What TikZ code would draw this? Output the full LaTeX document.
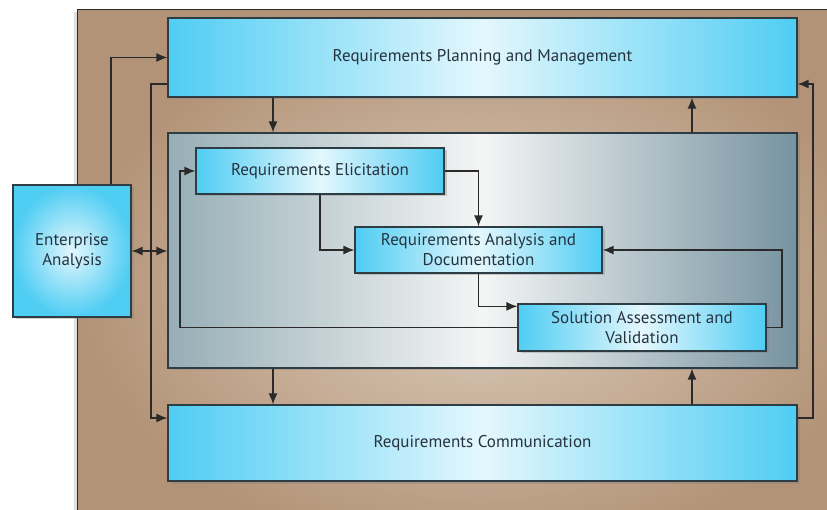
\documentclass[tikz,border=0pt]{standalone}
\usepackage{fontspec}
\setmainfont{PT Sans}
\usetikzlibrary{arrows.meta,shadows,calc}
\definecolor{brownout}{HTML}{B39377}
\definecolor{brownin}{HTML}{DCCDBD}
\definecolor{cy}{HTML}{4FCDF3}
\definecolor{cyw}{HTML}{E4F7FD}
\definecolor{gl}{HTML}{96AEB6}
\definecolor{gr}{HTML}{7693A0}
\definecolor{gw}{HTML}{F4F5F5}
\definecolor{boxline}{HTML}{2E3C44}
\definecolor{txt}{HTML}{26333F}
\definecolor{ln}{HTML}{2A2A2A}
\begin{document}
\begin{tikzpicture}[x=1pt,y=-1pt,
  box/.style={draw=boxline, line width=1.2pt, inner sep=0pt, text=txt,
    font=\fontsize{17}{20}\selectfont, align=center,
    drop shadow={shadow xshift=2.5pt, shadow yshift=-2.5pt, opacity=0.35}},
  bluebox/.style={box, left color=cy, right color=cy, middle color=cyw},
  arr/.style={draw=ln, line width=1.3pt, -{Latex[length=11pt,width=9pt]}},
  arrtwo/.style={draw=ln, line width=1.3pt, {Latex[length=11pt,width=9pt]}-{Latex[length=11pt,width=9pt]}}]
\useasboundingbox (0,0) rectangle (827,510);
\clip (0,0) rectangle (827,510);
\fill[white] (0,0) rectangle (827,510);
% outer brown frame
\path[inner color=brownin, outer color=brownout, draw=ln, line width=1pt,
  drop shadow={shadow xshift=-3pt, shadow yshift=-2pt, opacity=0.25}]
  (77,10) rectangle (880,560);
% routing coordinates
\coordinate (xa) at (111,0);
\coordinate (xb) at (151,0);
\coordinate (xr) at (813,0);
\coordinate (xl) at (180,0);
\coordinate (xk) at (782,0);
\coordinate (xd) at (273,0);
\coordinate (xu) at (692,0);
% main nodes
\node[box, minimum width=629pt, minimum height=235pt,
  left color=gl, right color=gr, middle color=gw] (grey) at (482.5,250.5) {};
\node[bluebox, minimum width=629pt, minimum height=79pt] (top) at (482.5,57.5)
  {Requirements Planning and Management};
\node[bluebox, minimum width=629pt, minimum height=76pt] (bot) at (482.5,443)
  {Requirements Communication};
\node[box, minimum width=118pt, minimum height=132pt,
  inner color=cyw, outer color=cy] (ea) at (72,251) {Enterprise\\Analysis};
\node[bluebox, minimum width=248pt, minimum height=46pt] (elic) at (320,171)
  {Requirements Elicitation};
\node[bluebox, minimum width=247pt, minimum height=46pt] (anal) at (478.5,250)
  {Requirements Analysis and\\Documentation};
\node[bluebox, minimum width=248pt, minimum height=47pt] (sol) at (642,327.5)
  {Solution Assessment and\\Validation};
\coordinate (ty) at ($(top.west)+(0,26.5)$);
\coordinate (by) at ($(bot.west)+(0,-25)$);
\coordinate (sy) at ($(sol.north west)+(0,3)$);
% outer connectors
\draw[arr] (ea.north -| xa) |- (top.west);
\draw[arr] (ty) -| (xb |- by) -- (by);
\draw[arr] (by -| bot.east) -| (xr |- ty) -- (ty -| top.east);
\draw[arrtwo] (ea.east) -- (ea.east -| grey.west);
\draw[arr] (top.south -| xd) -- (grey.north -| xd);
\draw[arr] (grey.north -| xu) -- (top.south -| xu);
\draw[arr] (grey.south -| xd) -- (bot.north -| xd);
\draw[arr] (bot.north -| xu) -- (grey.south -| xu);
% inner connectors
\draw[arr] (elic.east) -| (anal.north);
\draw[arr] (elic.south) |- (anal.west);
\draw[arr] (anal.south) |- (sy);
\draw[arr] (sol.east) -| (xk |- anal.east) -- (anal.east);
\draw[arr] (sol.west) -| (xl |- elic.west) -- (elic.west);
\end{tikzpicture}
\end{document}
